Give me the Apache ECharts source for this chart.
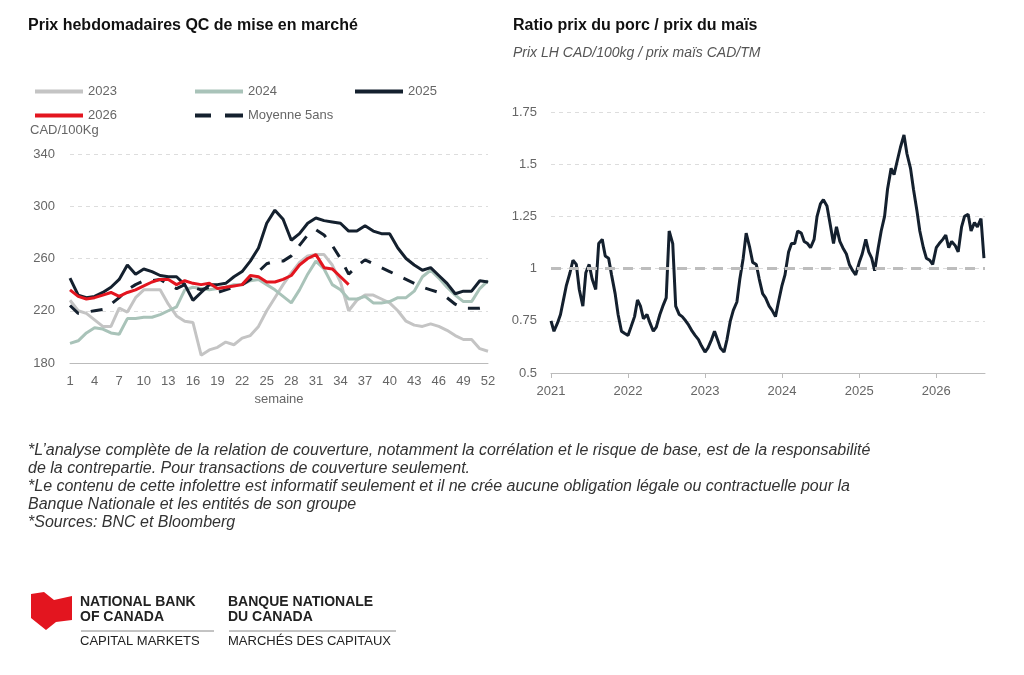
<!DOCTYPE html>
<html>
<head>
<meta charset="utf-8">
<script src="https://cdn.jsdelivr.net/npm/echarts@6/dist/echarts.min.js"></script>
<style>
  html, body { margin: 0; padding: 0; background: #fff; }
  #chart { width: 1024px; height: 675px; }
</style>
</head>
<body>
<div id="chart"></div>
<script>
// semaines 1..52
var weeks = [];
for (var w = 1; w <= 52; w++) weeks.push(String(w));

var s2023 = [228,220,218,213,208,208,222,219,230,236,236,236,225,216,212,211,186,190,192,196,194,199,201,208,220,230,240,249,257,262,263,263,255,242,220,228,232,232,229,226,220,212,209,208,210,208,205,201,198,198,191,189];
var s2024 = [195,197,203,207,206,203,202,214,214,215,215,217,220,223,236,238,237,236,237,238,240,240,243,244,240,236,231,226,236,248,258,252,240,236,229,229,231,226,226,227,230,230,235,246,251,245,238,232,227,227,237,243];
var s2025 = [245,232,230,231,234,238,244,255,248,252,250,247,246,246,240,228,234,240,240,241,246,250,258,268,287,297,290,274,279,287,291,289,288,287,281,281,285,281,279,279,268,260,255,251,253,247,241,233,235,235,243,242];
var s2026 = [236,231,229,230,232,234,231,234,236,239,242,244,244,240,243,241,240,241,237,238,239,240,247,246,242,242,244,247,255,260,263,253,252,246,240];
var moy5 = [224,218,219,220,221,225,230,236,240,243,243,244,240,237,240,238,236,238,234,236,238,240,244,250,256,258,258,262,270,278,282,278,270,260,248,254,259,256,253,250,247,244,241,238,236,234,230,225,222,222,222,223];

// ratio porc / maïs, deux points par mois (le 1er et le 15)
var ratioStart = [2021, 0];
var ratio = [
  0.75,0.70, 0.74,0.78, 0.85,0.92, 0.98,1.04, 1.02,0.90, 0.82,0.98, 1.02,0.95, 0.90,1.12, 1.14,1.06, 1.05,0.97, 0.88,0.78, 0.70,0.69,
  0.68,0.72, 0.77,0.85, 0.82,0.76, 0.78,0.74, 0.70,0.72, 0.78,0.82, 0.86,1.18, 1.12,0.82, 0.78,0.77, 0.75,0.73, 0.70,0.68, 0.66,0.63,
  0.60,0.62, 0.66,0.70, 0.66,0.62, 0.60,0.66, 0.75,0.80, 0.84,0.95, 1.05,1.17, 1.10,1.03, 1.02,0.95, 0.88,0.86, 0.82,0.80, 0.77,0.84,
  0.92,0.97, 1.08,1.12, 1.12,1.18, 1.17,1.13, 1.12,1.10, 1.14,1.25, 1.31,1.33, 1.30,1.22, 1.12,1.20, 1.13,1.10, 1.07,1.02, 0.99,0.97,
  1.03,1.07, 1.14,1.08, 1.05,0.99, 1.10,1.18, 1.25,1.38, 1.48,1.45, 1.52,1.58, 1.64,1.55, 1.48,1.38, 1.28,1.18, 1.10,1.05, 1.04,1.02,
  1.10,1.12, 1.14,1.16, 1.10,1.13, 1.11,1.08, 1.20,1.25, 1.26,1.18, 1.22,1.20, 1.24,1.05
];

var ratioData = [];
for (var i = 0; i < ratio.length; i++) {
  var m = ratioStart[1] + Math.floor(i / 2);
  var d = new Date(Date.UTC(ratioStart[0], m, i % 2 === 0 ? 1 : 15));
  ratioData.push([d.getTime(), ratio[i]]);
}

var font = "Liberation Sans, Arial, sans-serif";
var grey = "#666";
var solidIcon = "path://M0,0h48v4h-48z";
var dashIcon = "path://M0,0h16v4h-16z M30,0h18v4h-18z";
function leg(name, icon, left, top) {
  return {
    left: left, top: top, itemWidth: 48, itemHeight: 4, itemGap: 4,
    textStyle: { color: grey, fontSize: 13 },
    data: [{ name: name, icon: icon }]
  };
}

var chart = echarts.init(document.getElementById("chart"));
var option = {
  backgroundColor: "#fff",
  animation: false,
  textStyle: { fontFamily: font },
  legend: [
    leg("2023", solidIcon, 30, 80),
    leg("2024", solidIcon, 190, 80),
    leg("2025", solidIcon, 350, 80),
    leg("2026", solidIcon, 30, 104),
    leg("Moyenne 5ans", dashIcon, 190, 104)
  ],
  grid: [
    { left: 70, top: 154, width: 418, height: 209 },
    { left: 551, top: 112, width: 434, height: 261 }
  ],
  xAxis: [
    {
      type: "category", gridIndex: 0, data: weeks, boundaryGap: false,
      name: "semaine", nameLocation: "middle", nameGap: 30,
      nameTextStyle: { color: grey, fontSize: 13 },
      axisLine: { lineStyle: { color: "#bbb" } },
      axisTick: { show: false },
      axisLabel: { interval: 2, color: grey, fontSize: 13, margin: 12 }
    },
    {
      type: "time", gridIndex: 1,
      min: Date.UTC(2021, 0, 1), max: Date.UTC(2026, 7, 20),
      interval: 365.25 * 864e5,
      axisLine: { lineStyle: { color: "#bbb" } },
      axisTick: { show: true, lineStyle: { color: "#bbb" } },
      splitLine: { show: false },
      axisLabel: {
        color: grey, fontSize: 13, margin: 12,
        formatter: function (v) { return String(new Date(v + 20 * 864e5).getUTCFullYear()); }
      }
    }
  ],
  yAxis: [
    {
      type: "value", gridIndex: 0, min: 180, max: 340, interval: 40,
      axisLine: { show: false }, axisTick: { show: false },
      axisLabel: { color: grey, fontSize: 13, margin: 15 },
      splitLine: { lineStyle: { color: "#ddd", type: [4, 4] } }
    },
    {
      type: "value", gridIndex: 1, min: 0.5, max: 1.75, interval: 0.25,
      axisLine: { show: false }, axisTick: { show: false },
      axisLabel: { color: grey, fontSize: 13, margin: 14, formatter: function (v) { return String(v); } },
      splitLine: { lineStyle: { color: "#ddd", type: [4, 4] } }
    }
  ],
  series: [
    { name: "2023", type: "line", data: s2023, symbol: "none", lineStyle: { color: "#c4c4c4", width: 3 }, itemStyle: { color: "#c4c4c4" } },
    { name: "2024", type: "line", data: s2024, symbol: "none", lineStyle: { color: "#a9c3b9", width: 3 }, itemStyle: { color: "#a9c3b9" } },
    { name: "2025", type: "line", data: s2025, symbol: "none", lineStyle: { color: "#14202e", width: 3 }, itemStyle: { color: "#14202e" } },
    { name: "Moyenne 5ans", type: "line", data: moy5, symbol: "none", lineStyle: { color: "#14202e", width: 3, type: [12, 12] }, itemStyle: { color: "#14202e" } },
    { name: "2026", type: "line", data: s2026, symbol: "none", lineStyle: { color: "#e3151f", width: 3 }, itemStyle: { color: "#e3151f" }, z: 5 },
    {
      name: "ratio", type: "line", xAxisIndex: 1, yAxisIndex: 1, data: ratioData,
      symbol: "none", lineStyle: { color: "#14202e", width: 3 },
      markLine: {
        silent: true, symbol: "none", label: { show: false },
        lineStyle: { color: "#bdbdbd", width: 3, type: [10, 8] },
        data: [{ yAxis: 1 }]
      },
      z: 3
    }
  ],
  graphic: [
    { type: "text", left: 28, top: 18, style: { text: "Prix hebdomadaires QC de mise en marché", font: "bold 16px " + font, fill: "#111" } },
    { type: "text", left: 513, top: 18, style: { text: "Ratio prix du porc / prix du maïs", font: "bold 16px " + font, fill: "#111" } },
    { type: "text", left: 513, top: 46, style: { text: "Prix LH CAD/100kg / prix maïs CAD/TM", font: "italic 14px " + font, fill: "#555" } },
    { type: "text", left: 30, top: 124, style: { text: "CAD/100Kg", font: "13px " + font, fill: grey } },
    { type: "text", left: 28, top: 442, style: {
      text: "*L’analyse complète de la relation de couverture, notamment la corrélation et le risque de base, est de la responsabilité\nde la contrepartie. Pour transactions de couverture seulement.\n*Le contenu de cette infolettre est informatif seulement et il ne crée aucune obligation légale ou contractuelle pour la\nBanque Nationale et les entités de son groupe\n*Sources: BNC et Bloomberg",
      font: "italic 16px " + font, fill: "#333", lineHeight: 18 } },
    { type: "polygon", shape: { points: [[31, 594], [44, 592], [54, 600], [72, 596], [72, 620], [56, 622], [46, 630], [31, 618]] }, style: { fill: "#e3151f" } },
    { type: "text", left: 80, top: 595, style: { text: "NATIONAL BANK\nOF CANADA", font: "bold 14px " + font, fill: "#222", lineHeight: 15 } },
    { type: "text", left: 228, top: 595, style: { text: "BANQUE NATIONALE\nDU CANADA", font: "bold 14px " + font, fill: "#222", lineHeight: 15 } },
    { type: "line", shape: { x1: 81, y1: 631, x2: 214, y2: 631 }, style: { stroke: "#888", lineWidth: 1 } },
    { type: "line", shape: { x1: 229, y1: 631, x2: 396, y2: 631 }, style: { stroke: "#888", lineWidth: 1 } },
    { type: "text", left: 80, top: 635, style: { text: "CAPITAL MARKETS", font: "13px " + font, fill: "#222" } },
    { type: "text", left: 228, top: 635, style: { text: "MARCHÉS DES CAPITAUX", font: "13px " + font, fill: "#222" } }
  ]
};
chart.setOption(option);
</script>
</body>
</html>
